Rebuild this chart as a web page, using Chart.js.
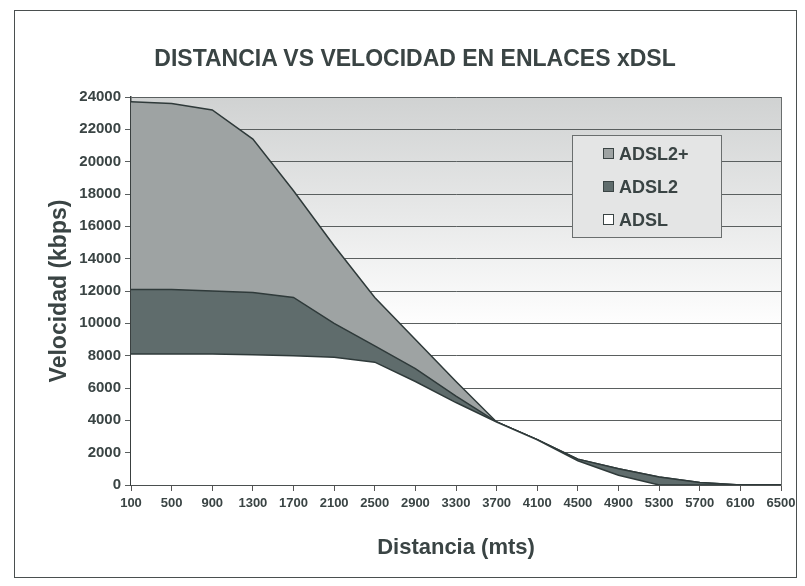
<!DOCTYPE html>
<html>
<head>
<meta charset="utf-8">
<script src="https://cdn.jsdelivr.net/npm/chart.js@4/dist/chart.umd.min.js"></script>
<style>
body{margin:0;background:#fff}
#wrap{position:relative;width:805px;height:586px}
#frame{position:absolute;left:14px;top:10px;width:783px;height:568px;border:1.5px solid #4a4f4f;box-sizing:border-box;pointer-events:none}
#titulo{position:absolute;left:115px;width:600px;top:44px;text-align:center;
font-family:"Liberation Sans",Arial,sans-serif;font-weight:bold;font-size:23px;line-height:28px;color:#3a4444}
#legend{position:absolute;left:572px;top:135px;width:150px;height:103px;background:#e4e5e5;border:1px solid #6a6e6e;box-sizing:border-box;
font-family:"Liberation Sans",Arial,sans-serif;font-weight:bold;font-size:18px;color:#3a4444}
#legend div{position:absolute;left:30px;height:22px;line-height:22px}
#legend span{display:inline-block;width:9px;height:9px;border:1px solid #3a4444;margin-right:5px;vertical-align:1px}
</style>
</head>
<body>
<div id="wrap">
<canvas id="chart" width="805" height="586"></canvas>
<div id="frame"></div>
<div id="titulo">DISTANCIA VS VELOCIDAD EN ENLACES xDSL</div>
<div id="legend"></div>
</div>
<script>
// datos
let distancias=[100,500,900,1300,1700,2100,2500,2900,3300,3700,4100,4500,4900,5300,5700,6100,6500]
let adsl2plus=[23700,23600,23200,21400,18200,14800,11600,9000,6400,3900,2800,1600,1000,500,150,0,0]
let adsl2=[12100,12100,12000,11900,11600,10000,8600,7200,5500,3900,2800,1600,1000,500,150,0,0]
let adsl=[8100,8100,8100,8050,8000,7900,7600,6400,5100,3900,2800,1500,600,0,0,0,0]
let yTicks=[0,24000,2000]

let textColor='#3a4444'
let series=[
{label:'ADSL2+',data:adsl2plus,color:'#9ea3a3',order:3},
{label:'ADSL2',data:adsl2,color:'#5f6c6c',order:2},
{label:'ADSL',data:adsl,color:'#ffffff',order:1}
]

// leyenda
let leg=""
series.forEach((s,i)=>{
leg+=`<div style="top:${7+i*33}px"><span style="background:${s.color}"></span>${s.label}</div>`
})
document.getElementById("legend").innerHTML=leg

// fondo degradado del area de trazado
const plotBg={
id:'plotBg',
beforeDraw(chart){
const {ctx,chartArea:a}=chart
let g=ctx.createLinearGradient(0,a.top,0,a.bottom)
g.addColorStop(0,'#d0d2d2')
g.addColorStop(0.6,'#ffffff')
g.addColorStop(1,'#ffffff')
ctx.save()
ctx.fillStyle=g
ctx.fillRect(a.left,a.top,a.right-a.left,a.bottom-a.top)
ctx.restore()
},
afterDraw(chart){
const {ctx,chartArea:a}=chart
ctx.save()
ctx.strokeStyle='#6a6e6e'
ctx.lineWidth=1
ctx.beginPath()
ctx.moveTo(a.right+0.5,a.top)
ctx.lineTo(a.right+0.5,a.bottom)
ctx.stroke()
ctx.restore()
}
}

new Chart(document.getElementById('chart'),{
type:'line',
data:{
labels:distancias,
datasets:series.map(s=>({
label:s.label,
data:s.data,
order:s.order,
fill:'origin',
backgroundColor:s.color,
borderColor:'#2f3a3a',
borderWidth:1.5,
pointRadius:0,
tension:0
}))
},
options:{
responsive:false,
animation:false,
layout:{padding:{left:30,right:24,top:97,bottom:20}},
plugins:{
legend:{display:false},
tooltip:{enabled:false},
title:{display:false}
},
scales:{
x:{
offset:false,
grid:{drawOnChartArea:false,drawTicks:true,tickLength:6,color:'#555'},
border:{color:'#3a4040',width:1.5},
ticks:{
color:textColor,autoSkip:false,maxRotation:0,padding:5,
font:{family:'"Liberation Sans", Arial, sans-serif',size:13,weight:'bold'}
},
title:{
display:true,text:'Distancia (mts)',color:textColor,
font:{family:'"Liberation Sans", Arial, sans-serif',size:22,weight:'bold'},
padding:{top:0,bottom:5}
},
afterFit(s){s.height=81}
},
y:{
min:yTicks[0],max:yTicks[1],
grid:{color:'#5a5f5f',tickLength:6,lineWidth:1},
border:{color:'#3a4040',width:1.5},
ticks:{
stepSize:yTicks[2],color:textColor,padding:4,
callback:v=>String(v),
font:{family:'"Liberation Sans", Arial, sans-serif',size:15,weight:'bold'}
},
title:{
display:true,text:'Velocidad (kbps)',color:textColor,
font:{family:'"Liberation Sans", Arial, sans-serif',size:23,weight:'bold'},
padding:{top:16,bottom:0}
},
afterFit(s){s.width=101}
}
}
},
plugins:[plotBg]
})
</script>
</body>
</html>
